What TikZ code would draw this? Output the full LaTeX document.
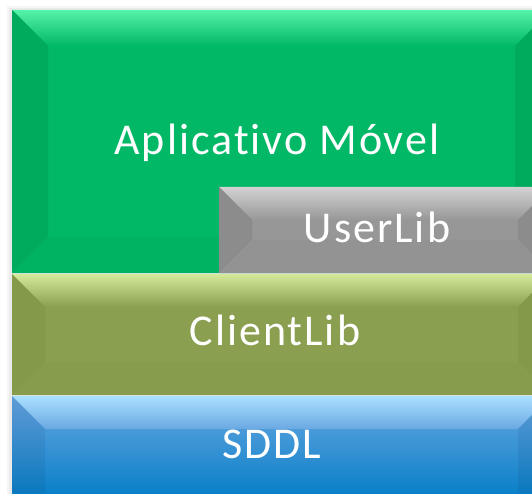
\documentclass[tikz,border=0pt]{standalone}
\usepackage{fontspec}
\setmainfont{Carlito}[LetterSpace=4.5,Ligatures=NoCommon]
\definecolor{gMain}{HTML}{00B865}
\definecolor{gTop}{HTML}{55F2AA}
\definecolor{gSide}{HTML}{00AB5E}
\definecolor{gBot}{HTML}{00B362}
\definecolor{yMain}{HTML}{979797}
\definecolor{yTop}{HTML}{D2D2D2}
\definecolor{ySide}{HTML}{8C8C8C}
\definecolor{yBot}{HTML}{939393}
\definecolor{oMain}{HTML}{8A9F4F}
\definecolor{oTop}{HTML}{D4EA9A}
\definecolor{oSide}{HTML}{85994B}
\definecolor{oBot}{HTML}{889C4D}
\definecolor{bMainT}{HTML}{6AA8E2}
\definecolor{bMainB}{HTML}{0A80C8}
\definecolor{bTop}{HTML}{AAE0FF}
\definecolor{bSideT}{HTML}{609CD6}
\definecolor{bSideB}{HTML}{0A78BE}
\tikzset{lbl/.style={anchor=base,text=white,font=\fontsize{44}{52}\selectfont,inner sep=0pt}}
% #1 x1, #2 y bottom, #3 x2, #4 y top, #5 bevel, #6 prefix
\newcommand{\bevelbox}[6]{%
  \fill[#6Main] (#1,#2) rectangle (#3,#4);
  \shade[top color=#6Top, bottom color=#6Main] (#1,#4) -- (#3,#4) -- ({#3-#5},{#4-#5}) -- ({#1+#5},{#4-#5}) -- cycle;
  \fill[#6Side] (#1,#4) -- ({#1+#5},{#4-#5}) -- ({#1+#5},{#2+#5}) -- (#1,#2) -- cycle;
  \fill[#6Side] (#3,#4) -- ({#3-#5},{#4-#5}) -- ({#3-#5},{#2+#5}) -- (#3,#2) -- cycle;
  \fill[#6Bot] (#1,#2) -- ({#1+#5},{#2+#5}) -- ({#3-#5},{#2+#5}) -- (#3,#2) -- cycle;
}
\begin{document}
\begin{tikzpicture}[x=1pt,y=1pt]
\useasboundingbox (0,0) rectangle (532,493);
\fill[white] (0,0) rectangle (532,493);
% soft shadow
\fill[black!4] (7,-20) rectangle (560,487);
\fill[black!8] (9,-20) rectangle (560,485);
% green layer
\bevelbox{12}{220}{551}{483}{36}{g}
% gray UserLib
\bevelbox{219}{220}{551}{306}{33}{y}
% olive ClientLib
\bevelbox{12}{98}{551}{219}{33}{o}
% blue SDDL
\fill[bMainB] (12,-47) rectangle (551,1);
\shade[top color=bMainT, bottom color=bMainB] (12,0) rectangle (551,97);
\shade[top color=bTop, bottom color=bMainT] (12,97) -- (551,97) -- (518,64) -- (45,64) -- cycle;
\shade[top color=bSideT, bottom color=bSideB] (12,97) -- (45,64) -- (45,0) -- (12,0) -- cycle;
\shade[top color=bSideT, bottom color=bSideB] (551,97) -- (518,64) -- (518,0) -- (551,0) -- cycle;
% labels
\node[lbl] (app) at (277,338) {Aplicativo Móvel};
\node[lbl] (user) at (377,251) {UserLib};
\node[lbl] (client) at (275,148) {ClientLib};
\node[lbl] (sddl) at (272,35) {SDDL};
\end{tikzpicture}
\end{document}
